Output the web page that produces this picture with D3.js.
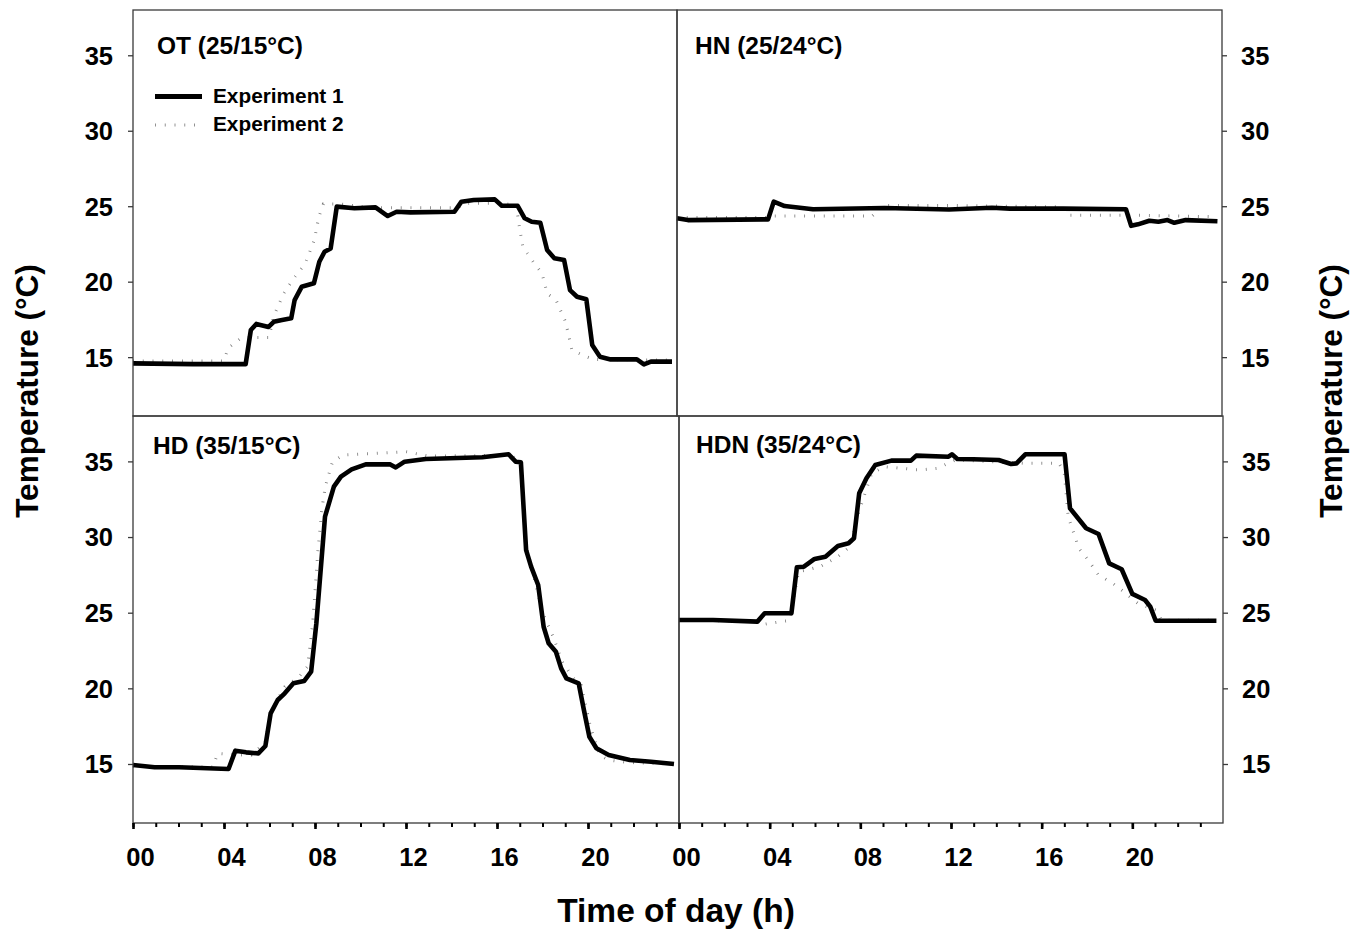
<!DOCTYPE html>
<html>
<head>
<meta charset="utf-8">
<script src="https://cdn.jsdelivr.net/npm/d3@7"></script>
<style>
  html, body { margin: 0; padding: 0; background: #fff; }
  svg { display: block; }
  text { font-family: "Liberation Sans", Arial, Helvetica, sans-serif; font-weight: bold; fill: #000; }
</style>
</head>
<body>
<svg id="chart" width="1359" height="930"></svg>
<script>
// Tick values and labels
const yTickValues = [15, 20, 25, 30, 35];
const xMinorHours = d3.range(0, 24);
const xMajorHours = [0, 4, 8, 12, 16, 20];
const xTickLabels = ["00", "04", "08", "12", "16", "20"];

// Panel titles
const panelTitles = ["OT (25/15°C)", "HN (25/24°C)", "HD (35/15°C)", "HDN (35/24°C)"];
const seriesNames = ["Experiment 1", "Experiment 2"];

// OT (25/15°C)
const otExp1Hours = [0, 2.65, 4.5, 4.97, 5.2, 5.44, 5.98, 6.21, 6.52, 6.98, 7.13, 7.44, 7.98, 8.22, 8.45, 8.72, 8.99, 9.77, 10.7, 11.24, 11.63, 12.24, 14.18, 14.49, 15.03, 15.96, 16.27, 16.97, 17.28, 17.59, 17.97, 18.27, 18.59, 19.02, 19.28, 19.59, 20.0, 20.26, 20.6, 21.07, 22.23, 22.54, 22.85, 23.78];
const otExp1Temps = [14.59, 14.54, 14.54, 14.54, 16.8, 17.2, 17.0, 17.34, 17.45, 17.57, 18.78, 19.66, 19.89, 21.32, 21.98, 22.2, 24.97, 24.86, 24.92, 24.35, 24.63, 24.59, 24.63, 25.3, 25.41, 25.45, 25.03, 25.03, 24.2, 23.97, 23.9, 22.1, 21.55, 21.43, 19.44, 19.0, 18.83, 15.8, 15.03, 14.85, 14.85, 14.52, 14.7, 14.7];
const otExp2Hours = [0, 4.0, 4.2, 4.8, 5.6, 6.0, 6.2, 6.66, 7.13, 7.6, 8.0, 8.2, 8.4, 9.15, 10.5, 14.3, 14.7, 16.0, 16.9, 17.05, 17.2, 17.66, 18.04, 18.28, 18.66, 19.05, 19.2, 19.36, 19.83, 20.3, 23.78];
const otExp2Temps = [14.75, 14.75, 15.6, 16.3, 16.3, 16.3, 17.7, 19.25, 20.3, 21.2, 22.76, 24.3, 25.15, 25.15, 24.9, 24.9, 25.2, 25.2, 25.1, 23.6, 22.3, 21.3, 20.57, 19.2, 18.8, 17.45, 16.6, 15.47, 15.14, 14.85, 14.8];

// HN (25/24°C)
const hnExp1Hours = [0, 0.48, 4.01, 4.26, 4.74, 5.99, 9.14, 11.98, 13.87, 14.66, 17.0, 19.77, 20.0, 20.3, 20.8, 21.2, 21.6, 21.9, 22.4, 23.8];
const hnExp1Temps = [24.2, 24.08, 24.13, 25.3, 25.01, 24.8, 24.88, 24.78, 24.9, 24.84, 24.84, 24.8, 23.7, 23.8, 24.04, 23.97, 24.08, 23.9, 24.08, 24.0];
const hnExp2Hours = [0, 4.0, 4.3, 8.6, 9.1, 11.9, 17.0, 17.3, 19.7, 20.2, 23.8];
const hnExp2Temps = [24.25, 24.25, 24.35, 24.35, 25.05, 25.05, 24.95, 24.4, 24.4, 24.4, 24.3];

// HD (35/15°C)
const hdExp1Hours = [0, 0.95, 2.03, 4.2, 4.5, 4.97, 5.51, 5.82, 6.05, 6.36, 6.67, 7.05, 7.52, 7.83, 8.06, 8.44, 8.83, 9.14, 9.61, 10.23, 11.31, 11.55, 11.94, 12.87, 15.35, 16.51, 16.82, 17.05, 17.28, 17.5, 17.81, 18.05, 18.27, 18.59, 18.82, 19.05, 19.59, 19.82, 20.06, 20.37, 20.91, 21.84, 22.77, 23.78];
const hdExp1Temps = [14.93, 14.78, 14.78, 14.67, 15.88, 15.77, 15.7, 16.19, 18.35, 19.23, 19.67, 20.33, 20.48, 21.1, 24.3, 31.35, 33.33, 33.99, 34.47, 34.8, 34.8, 34.6, 34.98, 35.16, 35.27, 35.47, 34.98, 34.94, 29.14, 28.04, 26.83, 24.07, 22.98, 22.42, 21.32, 20.66, 20.33, 18.57, 16.8, 16.04, 15.6, 15.26, 15.15, 15.0];
const hdExp2Hours = [0, 3.5, 3.73, 4.8, 5.2, 5.8, 6.1, 6.67, 7.3, 7.67, 7.9, 8.13, 8.3, 8.45, 8.77, 9.23, 10.7, 12.0, 13.0, 16.5, 16.7, 17.05, 17.25, 17.6, 18.0, 18.5, 18.85, 19.36, 19.7, 20.1, 20.5, 20.9, 21.8, 23.78];
const hdExp2Temps = [14.85, 14.8, 15.7, 15.6, 15.6, 16.4, 18.6, 20.1, 20.77, 21.43, 24.3, 29.14, 31.8, 33.33, 34.98, 35.42, 35.53, 35.64, 35.35, 35.4, 35.3, 35.0, 29.6, 27.5, 25.0, 23.3, 21.8, 20.66, 20.2, 17.5, 15.6, 15.26, 15.1, 15.0];

// HDN (35/24°C)
const hdnExp1Hours = [0, 1.5, 3.46, 3.78, 4.96, 5.2, 5.51, 5.98, 6.46, 7.01, 7.48, 7.72, 7.95, 8.27, 8.66, 9.37, 10.23, 10.47, 11.89, 12.04, 12.28, 12.99, 14.1, 14.65, 14.89, 15.28, 17.01, 17.25, 17.96, 18.51, 18.98, 19.53, 20.0, 20.56, 20.79, 21.03, 23.71];
const hdnExp1Temps = [24.52, 24.52, 24.41, 24.96, 24.96, 28.0, 28.04, 28.55, 28.7, 29.41, 29.59, 29.92, 32.89, 33.88, 34.76, 35.05, 35.05, 35.38, 35.31, 35.47, 35.16, 35.14, 35.09, 34.83, 34.87, 35.47, 35.47, 31.9, 30.58, 30.2, 28.26, 27.87, 26.24, 25.84, 25.4, 24.47, 24.47];
const hdnExp2Hours = [0, 3.4, 3.6, 4.9, 5.27, 6.22, 7.0, 7.55, 7.9, 8.5, 9.06, 10.6, 11.4, 12.2, 15.35, 16.77, 17.0, 17.17, 17.64, 18.04, 18.51, 19.14, 19.62, 20.24, 21.03, 21.3, 23.71];
const hdnExp2Temps = [24.5, 24.45, 24.2, 24.5, 27.7, 28.04, 28.7, 29.36, 31.5, 34.2, 34.65, 34.43, 34.54, 35.1, 34.87, 34.87, 34.2, 31.35, 29.26, 28.5, 27.49, 26.94, 26.39, 25.62, 25.18, 24.5, 24.5];

const svg = d3.select("#chart");
const tempDomain = [11.1, 38];

// Panel frames: [left, right, top, bottom]
const panels = [
  { title: panelTitles[0], box: [133, 677, 10, 416], axisSide: "left", xAxis: false,
    exp1: [otExp1Hours, otExp1Temps], exp2: [otExp2Hours, otExp2Temps], titlePos: [157, 54], legend: true },
  { title: panelTitles[1], box: [677, 1222, 10, 416], axisSide: "right", xAxis: false,
    exp1: [hnExp1Hours, hnExp1Temps], exp2: [hnExp2Hours, hnExp2Temps], titlePos: [695, 54] },
  { title: panelTitles[2], box: [133, 679, 416, 823], axisSide: "left", xAxis: true,
    exp1: [hdExp1Hours, hdExp1Temps], exp2: [hdExp2Hours, hdExp2Temps], titlePos: [153, 454] },
  { title: panelTitles[3], box: [679, 1223, 416, 823], axisSide: "right", xAxis: true,
    exp1: [hdnExp1Hours, hdnExp1Temps], exp2: [hdnExp2Hours, hdnExp2Temps], titlePos: [696, 453] }
];

const frameColor = "#3a3a3a";
const exp2Color = "#777";

panels.forEach(p => {
  const [x0, x1, y0, y1] = p.box;
  const x = d3.scaleLinear().domain([0, 24]).range([x0, x1]);
  const y = d3.scaleLinear().domain(tempDomain).range([y1, y0]);
  const g = svg.append("g");

  // series
  const line = d3.line().x(d => x(d[0])).y(d => y(d[1])).curve(d3.curveLinear);
  const exp2 = p.exp2[0].map((h, i) => [h, p.exp2[1][i]]);
  const exp1 = p.exp1[0].map((h, i) => [h, p.exp1[1][i]]);

  g.append("path").datum(exp2)
    .attr("d", line)
    .attr("fill", "none")
    .attr("stroke", exp2Color)
    .attr("stroke-width", 3)
    .attr("stroke-dasharray", "0.8 9");

  g.append("path").datum(exp1)
    .attr("d", line)
    .attr("fill", "none")
    .attr("stroke", "#000")
    .attr("stroke-width", 4.6)
    .attr("stroke-linejoin", "round")
    .attr("stroke-linecap", "butt");

  // frame
  g.append("rect")
    .attr("x", x0).attr("y", y0)
    .attr("width", x1 - x0).attr("height", y1 - y0)
    .attr("fill", "none")
    .attr("stroke", frameColor)
    .attr("stroke-width", 1.3);

  // y axis
  if (p.axisSide === "left") {
    const ax = g.append("g").attr("transform", `translate(${x0},0)`)
      .call(d3.axisLeft(y).tickValues(yTickValues).tickSize(5).tickPadding(15).tickFormat(d3.format("d")));
    ax.select(".domain").remove();
    ax.selectAll(".tick line").attr("stroke", frameColor).attr("stroke-width", 1.3);
    ax.selectAll(".tick text").attr("font-size", 25.5).attr("font-family", null).attr("dy", "0.35em");
  } else {
    const ax = g.append("g").attr("transform", `translate(${x1},0)`)
      .call(d3.axisRight(y).tickValues(yTickValues).tickSize(5).tickPadding(14).tickFormat(d3.format("d")));
    ax.select(".domain").remove();
    ax.selectAll(".tick line").attr("stroke", frameColor).attr("stroke-width", 1.3);
    ax.selectAll(".tick text").attr("font-size", 25.5).attr("font-family", null).attr("dy", "0.35em");
  }

  // x axis with hourly minor ticks
  if (p.xAxis) {
    const minor = g.append("g").attr("transform", `translate(0,${y1})`)
      .call(d3.axisBottom(x).tickValues(xMinorHours).tickSize(4).tickFormat(""));
    minor.select(".domain").remove();
    minor.selectAll(".tick line").attr("stroke", "#000").attr("stroke-width", 2);

    const major = g.append("g").attr("transform", `translate(0,${y1})`)
      .call(d3.axisBottom(x).tickValues(xMajorHours).tickSize(6)
        .tickFormat((d, i) => xTickLabels[i]));
    major.select(".domain").remove();
    major.selectAll(".tick line").attr("stroke", "#000").attr("stroke-width", 2.6);
    major.selectAll(".tick text")
      .attr("font-size", 25.5).attr("font-family", null)
      .attr("x", 7).attr("y", 43).attr("dy", null);
  }

  // title
  g.append("text")
    .attr("x", p.titlePos[0]).attr("y", p.titlePos[1])
    .attr("font-size", 24.5)
    .text(p.title);

  // legend
  if (p.legend) {
    const lg = g.append("g");
    lg.append("line").attr("x1", 155).attr("x2", 202).attr("y1", 96.5).attr("y2", 96.5)
      .attr("stroke", "#000").attr("stroke-width", 5);
    lg.append("line").attr("x1", 155).attr("x2", 200).attr("y1", 125).attr("y2", 125)
      .attr("stroke", exp2Color).attr("stroke-width", 3).attr("stroke-dasharray", "0.8 9");
    lg.append("text").attr("x", 213).attr("y", 103).attr("font-size", 20.8).text(seriesNames[0]);
    lg.append("text").attr("x", 213).attr("y", 131).attr("font-size", 20.8).text(seriesNames[1]);
  }
});

// axis titles
svg.append("text")
  .attr("x", 676).attr("y", 922)
  .attr("text-anchor", "middle")
  .attr("font-size", 33.5)
  .text("Time of day (h)");

svg.append("text")
  .attr("transform", "translate(38,391) rotate(-90)")
  .attr("text-anchor", "middle")
  .attr("font-size", 31.5)
  .text("Temperature (°C)");

svg.append("text")
  .attr("transform", "translate(1342,391) rotate(-90)")
  .attr("text-anchor", "middle")
  .attr("font-size", 31.5)
  .text("Temperature (°C)");
</script>
</body>
</html>
